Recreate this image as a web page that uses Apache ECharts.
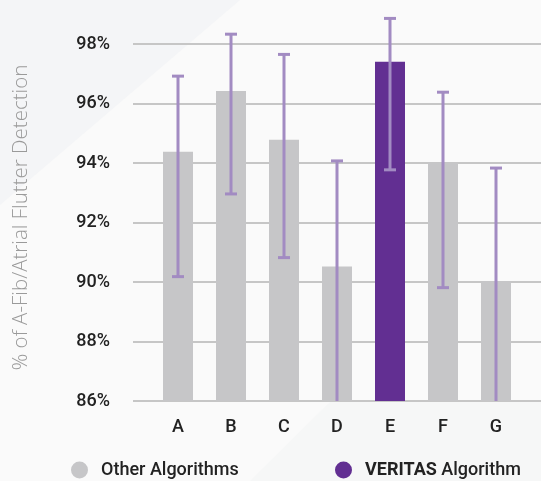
<!DOCTYPE html>
<html><head><meta charset="utf-8">
<script src="https://cdn.jsdelivr.net/npm/echarts@6/dist/echarts.min.js"></script>
<style>html,body{margin:0;padding:0;background:#fafafa}#c{width:541px;height:481px}</style>
</head><body><div id="c"></div>
<script>
const categories = ['A','B','C','D','E','F','G'];
const otherValues = [94.38, 96.42, 94.78, 90.52, null, 94.02, 90.03];
const veritasValues = [null, null, null, null, 97.40, null, null];
const errHigh = [96.92, 98.33, 97.65, 94.07, 98.86, 96.38, 93.83];
const errLow  = [90.18, 92.96, 90.82, 85.50, 93.77, 89.81, 85.50];
const yTicks = [86, 88, 90, 92, 94, 96, 98];

const GRAY = '#c6c6c8', PURPLE = '#622f92', ERR = '#a28bc2';
const font = 'Roboto';
const chart = echarts.init(document.getElementById('c'));
const yMin = yTicks[0], yMax = yTicks[yTicks.length-1];

chart.setOption({
  backgroundColor: '#fafafa',
  animation: false,
  graphic: [
    {type:'polygon', z:-10, silent:true, shape:{points:[[0,0],[240,0],[0,205]]}, style:{fill:'#f4f5f7'}},
    {type:'polygon', z:-10, silent:true, shape:{points:[[330,402],[541,402],[541,481],[250,481]]}, style:{fill:'#f6f7f7'}}
  ],
  grid: [
    {left:133, right:0, top:44, bottom:80},
    {left:151.5, right:18.5, top:44, bottom:80}
  ],
  xAxis: [
    {gridIndex:0, type:'category', data:categories, show:false},
    {gridIndex:1, type:'category', data:categories,
     axisLine:{show:false}, axisTick:{show:false},
     axisLabel:{color:'#222', fontFamily:font, fontWeight:500, fontSize:18, margin:17}}
  ],
  yAxis: [
    {gridIndex:0, type:'value', min:yMin, max:yMax, interval:2,
     name:'% of A-Fib/Atrial Flutter Detection', nameLocation:'middle', nameGap:101,
     nameTextStyle:{color:'#9a9a9a', fontFamily:'Open Sans', fontWeight:300, fontSize:20.5, padding:[0,0,0,10]},
     axisLine:{show:false}, axisTick:{show:false},
     axisLabel:{color:'#222', fontFamily:font, fontWeight:500, fontSize:18, margin:23, formatter:v=>v+'%'},
     splitLine:{lineStyle:{color:'#c6c6c6', width:2}}},
    {gridIndex:1, type:'value', min:yMin, max:yMax, interval:2, show:false, splitLine:{show:false}}
  ],
  legend: [
    {left:66, top:456, itemWidth:17, itemHeight:17, icon:'circle', selectedMode:false,
     data:['Other Algorithms'],
     textStyle:{color:'#222', fontFamily:font, fontWeight:500, fontSize:18, padding:[0,0,0,8]}},
    {left:330, top:456, itemWidth:17, itemHeight:17, icon:'circle', selectedMode:false,
     data:['VERITAS Algorithm'],
     formatter: () => '{b|VERITAS} Algorithm',
     textStyle:{color:'#222', fontFamily:font, fontWeight:500, fontSize:18, padding:[0,0,0,8],
       rich:{b:{fontWeight:'bold', fontFamily:font, fontSize:18, color:'#222'}}}}
  ],
  series: [
    {name:'Other Algorithms', type:'bar', xAxisIndex:1, yAxisIndex:1, data:otherValues,
     barWidth:30, barGap:'-100%', itemStyle:{color:GRAY}},
    {name:'VERITAS Algorithm', type:'bar', xAxisIndex:1, yAxisIndex:1, data:veritasValues,
     barWidth:30, barGap:'-100%', itemStyle:{color:PURPLE}},
    {name:'err', type:'custom', xAxisIndex:1, yAxisIndex:1, clip:false, z:10,
     data: categories.map((c,i)=>[i, errLow[i], errHigh[i]]),
     renderItem: function(params, api){
       const x = api.coord([api.value(0), 0])[0];
       const lowV = api.value(1), highV = api.value(2);
       const clamped = lowV < yMin;
       const yLo = api.coord([api.value(0), Math.max(lowV, yMin)])[1];
       const yHi = api.coord([api.value(0), highV])[1];
       const hw = 6;
       const style = {stroke:ERR, lineWidth:3};
       const ch = [
         {type:'line', shape:{x1:x, y1:yLo, x2:x, y2:yHi}, style},
         {type:'line', shape:{x1:x-hw, y1:yHi, x2:x+hw, y2:yHi}, style}
       ];
       if(!clamped) ch.push({type:'line', shape:{x1:x-hw, y1:yLo, x2:x+hw, y2:yLo}, style});
       return {type:'group', children:ch};
     }}
  ]
});
</script></body></html>
